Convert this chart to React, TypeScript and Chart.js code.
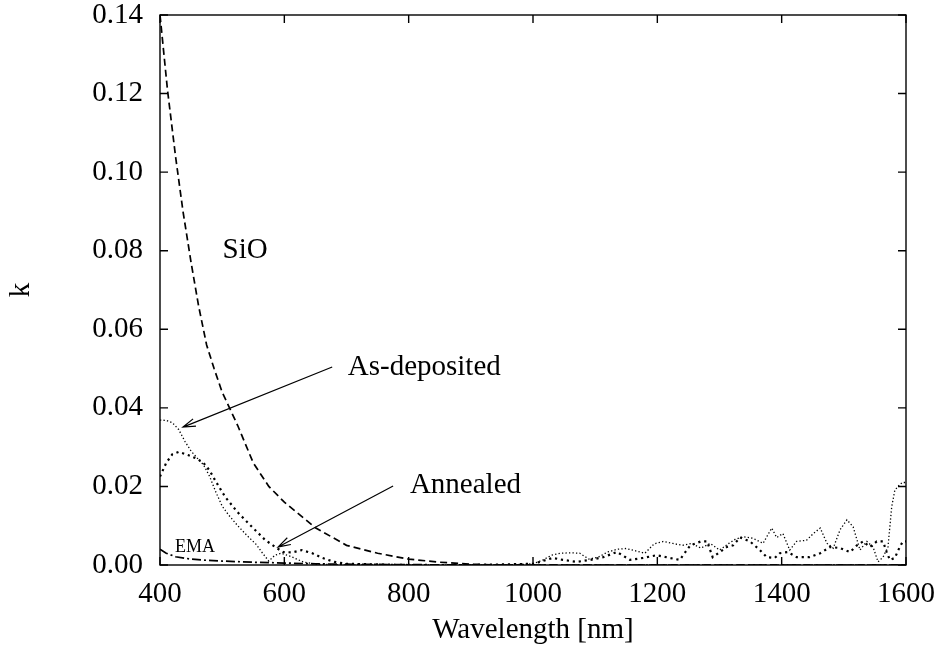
import React, { useEffect, useRef } from 'react';
import { Chart, registerables } from 'chart.js';

Chart.register(...registerables);

// ---- Data ----
const sioWavelength = [400, 412, 425, 437, 450, 462, 475, 487, 500, 525, 550, 575, 600, 650, 700, 750, 800, 850, 900, 950, 1000, 1200, 1400, 1600];
const sioK = [0.14, 0.121, 0.104, 0.09, 0.077, 0.066, 0.056, 0.05, 0.044, 0.0355, 0.026, 0.02, 0.016, 0.0095, 0.005, 0.003, 0.0015, 0.0007, 0.0002, 0.0, 0.0, 0.0, 0.0, 0.0];

const asDepWavelength = [400, 410, 420, 430, 440, 450, 460, 470, 480, 490, 500, 510, 525, 540, 555, 565, 575, 585, 595, 610, 630, 650, 700, 800, 900, 950, 1000, 1015, 1030, 1045, 1060, 1075, 1090, 1105, 1120, 1135, 1150, 1165, 1180, 1195, 1210, 1225, 1240, 1255, 1270, 1285, 1300, 1315, 1325, 1338, 1354, 1370, 1384, 1392, 1402, 1413, 1424, 1440, 1451, 1462, 1473, 1483, 1494, 1505, 1515, 1526, 1537, 1547, 1555, 1563, 1571, 1577, 1582, 1587, 1594, 1600];
const asDepK = [0.0369, 0.0368, 0.0362, 0.0345, 0.0315, 0.029, 0.0272, 0.0255, 0.0225, 0.0185, 0.015, 0.0128, 0.01, 0.0075, 0.0052, 0.003, 0.001, 0.0025, 0.003, 0.0022, 0.0008, 0.0002, 0.0, 0.0, 0.0, 0.0, 0.0003, 0.0012, 0.0025, 0.003, 0.0031, 0.003, 0.0015, 0.002, 0.0033, 0.004, 0.0042, 0.0036, 0.003, 0.0054, 0.006, 0.0055, 0.005, 0.0055, 0.0043, 0.0055, 0.0038, 0.0055, 0.0065, 0.0072, 0.0068, 0.0055, 0.0094, 0.007, 0.008, 0.0038, 0.006, 0.0063, 0.008, 0.0094, 0.0055, 0.0043, 0.009, 0.0115, 0.0097, 0.0038, 0.006, 0.0046, 0.0008, 0.002, 0.0046, 0.0148, 0.019, 0.02, 0.021, 0.021];

const annealedWavelength = [400, 410, 420, 430, 445, 460, 470, 480, 490, 505, 525, 548, 569, 585, 598, 613, 628, 645, 661, 680, 700, 800, 900, 1000, 1011, 1032, 1048, 1070, 1092, 1113, 1135, 1156, 1177, 1199, 1220, 1236, 1253, 1270, 1280, 1289, 1312, 1322, 1333, 1349, 1365, 1376, 1389, 1397, 1410, 1424, 1445, 1462, 1478, 1494, 1510, 1521, 1531, 1542, 1553, 1563, 1569, 1574, 1582, 1590, 1595, 1600];
const annealedK = [0.0225, 0.026, 0.0282, 0.0288, 0.028, 0.027, 0.026, 0.024, 0.0212, 0.0173, 0.0134, 0.0097, 0.0064, 0.0046, 0.0033, 0.0032, 0.0038, 0.003, 0.0018, 0.0008, 0.0003, 0.0, 0.0, 0.0003, 0.0008, 0.0018, 0.0013, 0.0008, 0.0013, 0.002, 0.0033, 0.0013, 0.0018, 0.0025, 0.0018, 0.0013, 0.005, 0.006, 0.006, 0.002, 0.0046, 0.005, 0.007, 0.006, 0.0038, 0.002, 0.0018, 0.003, 0.0033, 0.002, 0.002, 0.003, 0.0046, 0.0043, 0.0033, 0.005, 0.006, 0.0046, 0.006, 0.006, 0.0033, 0.0013, 0.0018, 0.0046, 0.006, 0.006];

const emaWavelength = [400, 410, 425, 450, 475, 500, 550, 600, 650, 700, 800, 900, 1000, 1200, 1400, 1600];
const emaK = [0.004, 0.003, 0.0021, 0.0015, 0.0012, 0.001, 0.0007, 0.0005, 0.0003, 0.0002, 0.0001, 0.0, 0.0, 0.0, 0.0, 0.0];

const xTickValues = [400, 600, 800, 1000, 1200, 1400, 1600];
const xTickLabels = ['400', '600', '800', '1000', '1200', '1400', '1600'];
const yTickValues = [0, 0.02, 0.04, 0.06, 0.08, 0.1, 0.12, 0.14];
const yTickLabels = ['0.00', '0.02', '0.04', '0.06', '0.08', '0.10', '0.12', '0.14'];

const FONT = '"Liberation Serif", "DejaVu Serif", serif';
const FS = 29;

const pts = (xs: number[], ys: number[]) => xs.map((x, i) => ({ x, y: ys[i] }));

function drawArrow(ctx: CanvasRenderingContext2D, x1: number, y1: number, x2: number, y2: number) {
  ctx.beginPath();
  ctx.moveTo(x1, y1);
  ctx.lineTo(x2, y2);
  const a = Math.atan2(y2 - y1, x2 - x1);
  const len = 13;
  const spread = 0.3;
  ctx.moveTo(x2 - len * Math.cos(a - spread), y2 - len * Math.sin(a - spread));
  ctx.lineTo(x2, y2);
  ctx.lineTo(x2 - len * Math.cos(a + spread), y2 - len * Math.sin(a + spread));
  ctx.stroke();
}

const framePlugin = {
  id: 'frameAndNotes',
  afterDatasetsDraw(chart: any) {
    const { ctx, chartArea, scales } = chart;
    const { left, right, top, bottom } = chartArea;
    const x = scales.x;
    const y = scales.y;
    ctx.save();
    ctx.strokeStyle = '#000';
    ctx.lineWidth = 1.4;
    ctx.setLineDash([]);
    ctx.strokeRect(left, top, right - left, bottom - top);
    const tl = 8;
    ctx.beginPath();
    xTickValues.forEach((v) => {
      const px = x.getPixelForValue(v);
      ctx.moveTo(px, bottom);
      ctx.lineTo(px, bottom - tl);
      ctx.moveTo(px, top);
      ctx.lineTo(px, top + tl);
    });
    yTickValues.forEach((v) => {
      const py = y.getPixelForValue(v);
      ctx.moveTo(left, py);
      ctx.lineTo(left + tl, py);
      ctx.moveTo(right, py);
      ctx.lineTo(right - tl, py);
    });
    ctx.stroke();

    // arrows
    ctx.lineWidth = 1.2;
    drawArrow(ctx, x.getPixelForValue(677), y.getPixelForValue(0.0504), x.getPixelForValue(437), y.getPixelForValue(0.0351));
    drawArrow(ctx, x.getPixelForValue(775), y.getPixelForValue(0.0201), x.getPixelForValue(590), y.getPixelForValue(0.0046));

    // labels
    ctx.fillStyle = '#000';
    ctx.font = `${FS}px ${FONT}`;
    ctx.textAlign = 'center';
    ctx.textBaseline = 'middle';
    ctx.fillText('SiO', x.getPixelForValue(537), y.getPixelForValue(0.0802));
    ctx.textAlign = 'left';
    ctx.textBaseline = 'alphabetic';
    ctx.fillText('As-deposited', x.getPixelForValue(702), y.getPixelForValue(0.0484));
    ctx.fillText('Annealed', x.getPixelForValue(802), y.getPixelForValue(0.01825));
    ctx.font = `18px ${FONT}`;
    ctx.fillText('EMA', x.getPixelForValue(424), y.getPixelForValue(0.0033));
    ctx.restore();
  },
};

export default function App() {
  const ref = useRef<HTMLCanvasElement | null>(null);
  useEffect(() => {
    if (!ref.current) return;
    Chart.defaults.color = '#000';
    const chart = new Chart(ref.current, {
      type: 'line',
      data: {
        datasets: [
          { label: 'SiO', data: pts(sioWavelength, sioK), borderColor: '#000', borderWidth: 1.7, borderDash: [7, 4], pointRadius: 0, tension: 0, fill: false },
          { label: 'As-deposited', data: pts(asDepWavelength, asDepK), borderColor: '#000', borderWidth: 1.3, borderDash: [1.3, 2.2], pointRadius: 0, tension: 0, fill: false },
          { label: 'Annealed', data: pts(annealedWavelength, annealedK), borderColor: '#000', borderWidth: 2.2, borderDash: [2.2, 3.8], pointRadius: 0, tension: 0, fill: false },
          { label: 'EMA', data: pts(emaWavelength, emaK), borderColor: '#000', borderWidth: 1.7, borderDash: [9, 3, 2, 3], pointRadius: 0, tension: 0, fill: false },
        ],
      },
      options: {
        animation: false,
        responsive: true,
        maintainAspectRatio: false,
        layout: { padding: { top: 15, right: 37, left: 0, bottom: 0 } },
        plugins: { legend: { display: false }, tooltip: { enabled: false } },
        scales: {
          x: {
            type: 'linear',
            min: 400,
            max: 1600,
            afterFit: (s: any) => { s.height = 91; s.paddingLeft = 0; s.paddingRight = 0; s.paddingTop = 0; s.paddingBottom = 0; },
            afterBuildTicks: (s: any) => { s.ticks = xTickValues.map((v) => ({ value: v })); },
            grid: { display: false, drawTicks: false },
            border: { display: false },
            ticks: {
              padding: 15,
              maxRotation: 0,
              autoSkip: false,
              font: { family: FONT, size: FS, lineHeight: 1 },
              callback: (v: any) => { const i = xTickValues.indexOf(Number(v)); return i >= 0 ? xTickLabels[i] : ''; },
            },
            title: { display: true, text: 'Wavelength [nm]', font: { family: FONT, size: FS, lineHeight: 1.2 }, padding: { top: 0, bottom: 8 } },
          },
          y: {
            type: 'linear',
            min: 0,
            max: 0.14,
            afterFit: (s: any) => { s.width = 160; s.paddingLeft = 0; s.paddingRight = 0; s.paddingTop = 0; s.paddingBottom = 0; },
            afterBuildTicks: (s: any) => { s.ticks = yTickValues.map((v) => ({ value: v })); },
            grid: { display: false, drawTicks: false },
            border: { display: false },
            ticks: {
              padding: 17,
              autoSkip: false,
              font: { family: FONT, size: FS, lineHeight: 1 },
              callback: (v: any, i: number) => yTickLabels[i] ?? '',
            },
            title: { display: true, text: 'k', font: { family: FONT, size: FS, lineHeight: 1.2 }, padding: { top: 4, bottom: 0 } },
          },
        },
      },
      plugins: [framePlugin],
    });
    return () => chart.destroy();
  }, []);
  return (
    <div style={{ position: 'absolute', left: 0, top: 0, width: 943, height: 656 }}>
      <canvas ref={ref} />
    </div>
  );
}
